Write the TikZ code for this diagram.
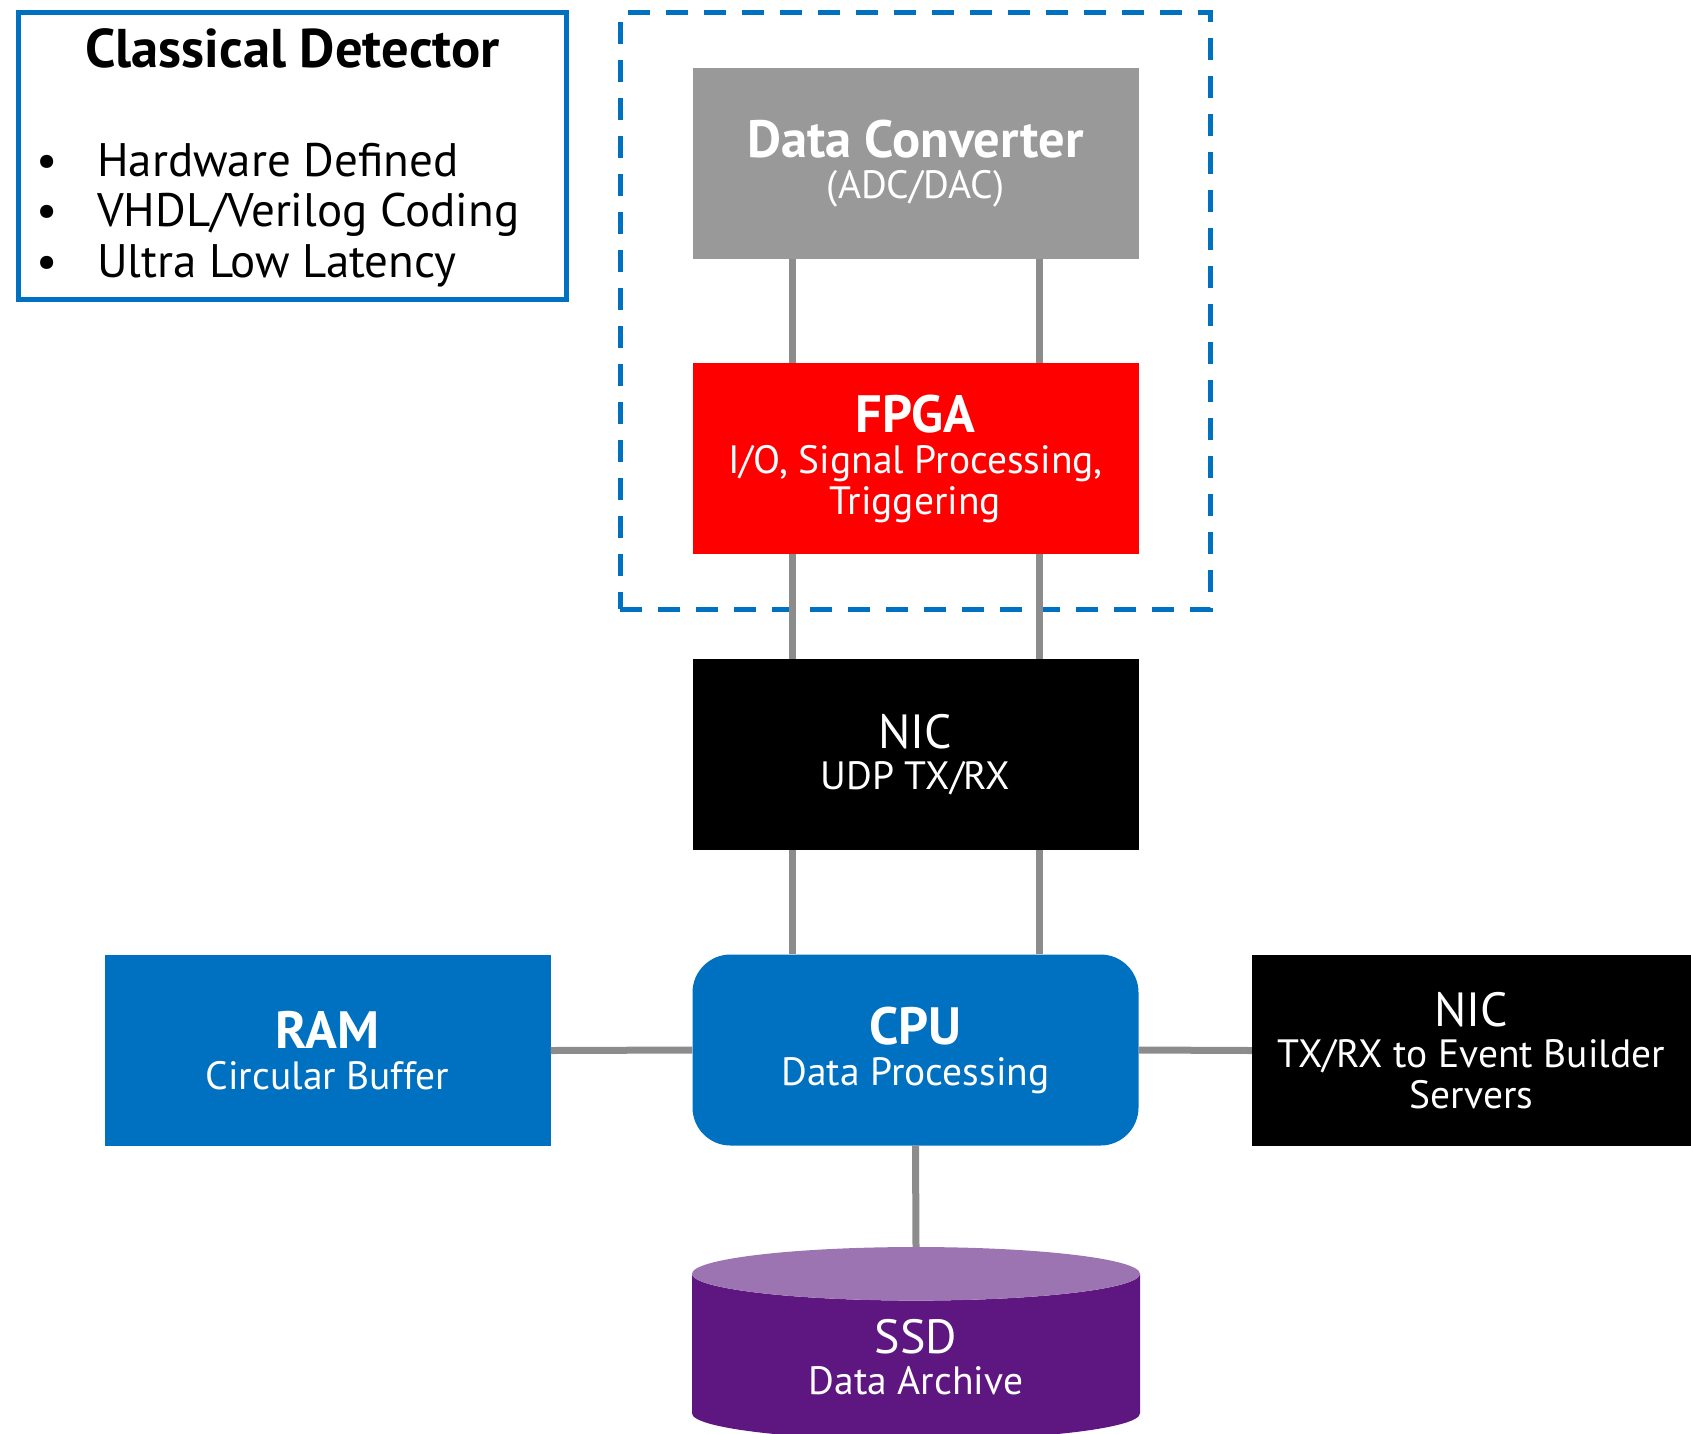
\documentclass[tikz,border=0pt]{standalone}
\usepackage{fontspec}
\setmainfont{PT Sans}
\usetikzlibrary{positioning,fit,shapes.geometric}

\definecolor{nvblue}{HTML}{0070C0}
\definecolor{convgray}{HTML}{999999}
\definecolor{linkgray}{HTML}{8C8C8C}
\definecolor{ssdpurple}{HTML}{5E1681}
\definecolor{ssdtop}{HTML}{9C74B2}

\newcommand{\lbl}{\fontsize{39.5}{41}\selectfont}
\newcommand{\hd}{\fontsize{52.5}{56}\selectfont\bfseries}
\newcommand{\hdr}{\fontsize{48}{52}\selectfont}
\newcommand{\cdtitle}{\fontsize{54.5}{60}\selectfont\bfseries}
\newcommand{\cditem}{\fontsize{47}{50.6}\selectfont}

\begin{document}
\begin{tikzpicture}[x=1pt,y=-1pt,
  blk/.style={minimum width=446pt,minimum height=191pt,inner sep=0pt,align=center,text=white,font=\lbl},
  link/.style={draw=linkgray,line width=7pt}]
\useasboundingbox (0,0) rectangle (1691,1433);
% classical detector note
\node[draw=nvblue,line width=5pt,minimum width=548pt,minimum height=287pt,inner sep=0pt] (cd) at (292.5,156) {};
\node[font=\cdtitle] (cdtitle) at (292.5,48) {Classical Detector};
\node[anchor=west,align=left,font=\cditem,inner sep=0pt] (cditems) at (36,215)
  {\makebox[61pt][l]{\textbullet}Hardware Defined\\
   \makebox[61pt][l]{\textbullet}VHDL/Verilog Coding\\
   \makebox[61pt][l]{\textbullet}Ultra Low Latency};
% main chain
\node[blk,fill=convgray] (conv) at (915.5,163.5) {{\hd Data Converter}\\(ADC/DAC)};
\node[blk,fill=red] (fpga) at (915.5,458.5) {{\hd FPGA}\\I/O, Signal Processing,\\Triggering};
\node[blk,fill=black] (nic) at (915.5,754.5) {{\hdr NIC}\\UDP TX/RX};
\node[blk,fill=nvblue,rounded corners=38pt] (cpu) at (915.5,1050) {{\hd CPU}\\Data Processing};
\node[blk,fill=nvblue] (ram) at (327.5,1050.5) {{\hd RAM}\\Circular Buffer};
\node[blk,fill=black,minimum width=439pt] (nic2) at (1471.5,1050.5) {{\hdr NIC}\\TX/RX to Event Builder\\Servers};
\node[cylinder,shape border rotate=90,aspect=0.25,minimum width=448pt,minimum height=193pt,
  cylinder uses custom fill,cylinder body fill=ssdpurple,cylinder end fill=ssdtop,
  inner sep=0pt,align=center,text=white,font=\lbl] (ssd) at (916,1357) {{\hdr SSD}\\Data Archive};
% detector frame
\node[fit=(conv)(fpga),draw=nvblue,line width=5pt,dash pattern=on 22pt off 16pt,
  inner xsep=72pt,inner ysep=55pt] (fpgazone) {};
% links
\foreach \a/\b in {conv/fpga,fpga/nic,nic/cpu}
  \foreach \dx in {-123,124}
    \draw[link] ([xshift=\dx pt]\a.south) -- ([xshift=\dx pt]\b.north);
\draw[link] (ram.east) -- (cpu.west);
\draw[link] (cpu.east) -- (nic2.west);
\draw[link] (cpu.south) -- (ssd.north);
\end{tikzpicture}
\end{document}
